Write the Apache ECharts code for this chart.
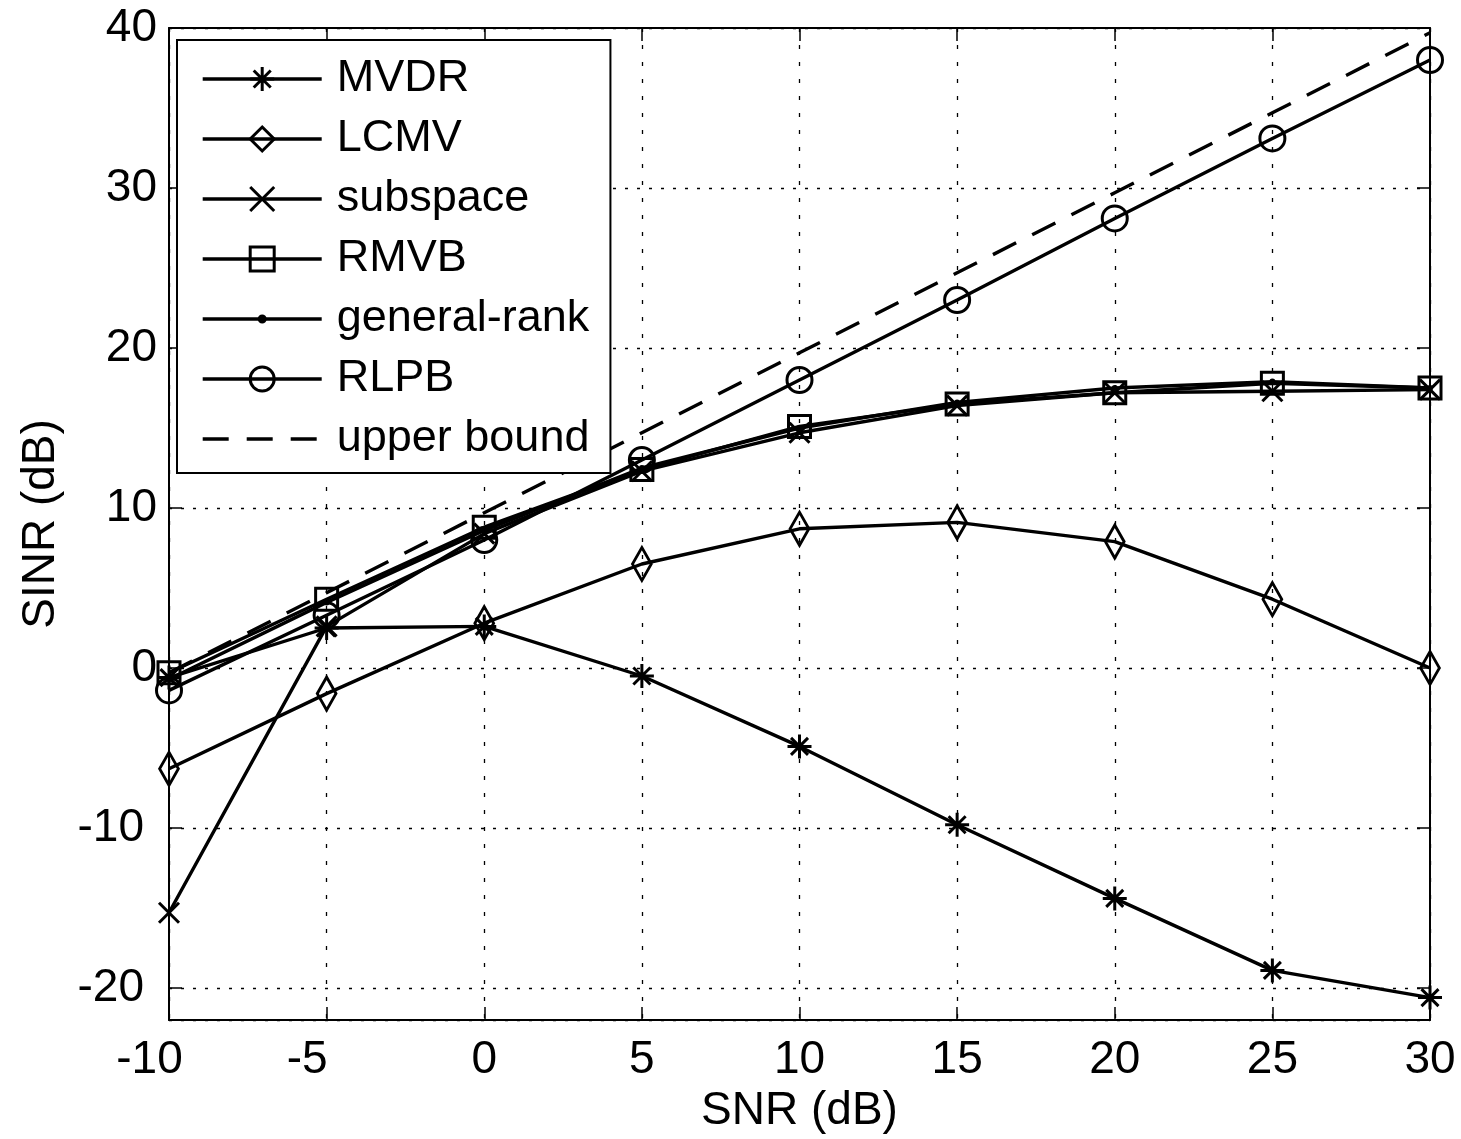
<!DOCTYPE html>
<html>
<head>
<meta charset="utf-8">
<script src="https://cdn.jsdelivr.net/npm/echarts@6/dist/echarts.min.js"></script>
<style>
html,body{margin:0;padding:0;background:#fff;}
#chart{width:1461px;height:1139px;}
</style>
</head>
<body>
<div id="chart"></div>
<script>
// ---- data ----
const snr = [-10, -5, 0, 5, 10, 15, 20, 25, 30];
const mvdr = [-0.6, 2.5, 2.6, -0.5, -4.9, -9.8, -14.4, -18.9, -20.6];
const lcmv = [-6.3, -1.6, 2.8, 6.5, 8.7, 9.1, 7.9, 4.3, 0.0];
const subspace = [-15.3, 2.6, 8.4, 12.3, 14.7, 16.4, 17.2, 17.3, 17.4];
const rmvb = [-0.3, 4.3, 8.8, 12.4, 15.1, 16.5, 17.2, 17.8, 17.5];
const generalRank = [-0.7, 4.1, 8.6, 12.5, 15.0, 16.6, 17.5, 17.9, 17.5];
const rlpb = [-1.4, 3.3, 8.0, 13.0, 18.0, 23.0, 28.1, 33.1, 38.0];
const upperBound = [-0.3, 4.7, 9.7, 14.7, 19.7, 24.7, 29.7, 34.7, 39.7];
const seriesNames = ['MVDR', 'LCMV', 'subspace', 'RMVB', 'general-rank', 'RLPB', 'upper bound'];
const xTicks = {min: -10, max: 30, interval: 5};
const yRange = {min: -22, max: 40, splitNumber: 6};

const FONT = '"Liberation Sans", Arial, Helvetica, sans-serif';
const pair = arr => snr.map((x, i) => [x, arr[i]]);

const SYM = {
  asterisk: 'path://M12,0 L12,24 M0,12 L24,12 M3.5,3.5 L20.5,20.5 M20.5,3.5 L3.5,20.5',
  diamond: 'path://M12,0 L24,16 L12,32 L0,16 Z',
  cross: 'path://M0,0 L20,20 M20,0 L0,20',
  dot: 'path://M0,0 M24,24 M15,12 A3,3 0 1,1 9,12 A3,3 0 1,1 15,12 Z',
  blank: 'path://M0,0 M1,1'
};

function mkSeries(name, data, symbol, size, extra) {
  return Object.assign({
    name: name,
    type: 'line',
    data: pair(data),
    symbol: symbol,
    symbolSize: size,
    showSymbol: true,
    symbolKeepAspect: true,
    lineStyle: {color: '#000', width: 3.4},
    itemStyle: {color: 'rgba(0,0,0,0)', borderColor: '#000', borderWidth: 3},
    emphasis: {disabled: true},
    animation: false,
    z: 3
  }, extra || {});
}

const series = [
  mkSeries(seriesNames[0], mvdr, SYM.asterisk, 24),
  mkSeries(seriesNames[1], lcmv, SYM.diamond, [25, 33]),
  mkSeries(seriesNames[2], subspace, SYM.cross, 20),
  mkSeries(seriesNames[3], rmvb, 'rect', 22),
  mkSeries(seriesNames[4], generalRank, SYM.dot, 24, {itemStyle: {color: '#000', borderColor: '#000', borderWidth: 0}}),
  mkSeries(seriesNames[5], rlpb, 'circle', 25),
  mkSeries(seriesNames[6], upperBound, SYM.blank, 1, {
    lineStyle: {color: '#000', width: 3.4, type: [26, 18]},
    itemStyle: {color: 'rgba(0,0,0,0)', borderColor: 'rgba(0,0,0,0)', borderWidth: 0}
  })
];

const axisLineStyle = {show: true, onZero: false, lineStyle: {color: '#000', width: 2}};
const tickStyle = {show: true, inside: true, length: 13, lineStyle: {color: '#000', width: 1.5}};

const option = {
  backgroundColor: '#fff',
  animation: false,
  grid: {left: 169, right: 31, top: 28, bottom: 119, containLabel: false},
  legend: {
    data: seriesNames,
    orient: 'vertical',
    left: 177,
    top: 40,
    itemWidth: 119,
    itemHeight: 30,
    itemGap: 14,
    padding: [16, 21, 11, 24],
    backgroundColor: '#fff',
    borderColor: '#000',
    borderWidth: 2,
    borderRadius: 0,
    selectedMode: false,
    lineStyle: {width: 3.4},
    itemStyle: {borderWidth: 3},
    textStyle: {fontFamily: FONT, fontSize: 45, color: '#000', lineHeight: 46, padding: [0, 0, 0, 10]}
  },
  xAxis: [
    {
      type: 'value', position: 'bottom',
      min: xTicks.min, max: xTicks.max, interval: xTicks.interval,
      axisLine: axisLineStyle, axisTick: tickStyle,
      splitLine: {show: true, lineStyle: {color: '#000', width: 1.3, type: [4, 13]}},
      axisLabel: {
        fontFamily: FONT, fontSize: 46, color: '#000', margin: 17,
        formatter: v => v < 0 ? '{neg|' + v + '}' : String(v),
        rich: {neg: {fontFamily: FONT, fontSize: 46, color: '#000', padding: [0, 39, 0, 0]}}
      },
      name: 'SNR (dB)', nameLocation: 'middle', nameGap: 60,
      nameTextStyle: {fontFamily: FONT, fontSize: 46, color: '#000'}
    },
    {
      type: 'value', position: 'top',
      min: xTicks.min, max: xTicks.max, interval: xTicks.interval,
      axisLine: axisLineStyle, axisTick: tickStyle,
      splitLine: {show: false}, axisLabel: {show: false}
    }
  ],
  yAxis: [
    {
      type: 'value', position: 'left',
      min: yRange.min, max: yRange.max, splitNumber: yRange.splitNumber,
      axisLine: axisLineStyle, axisTick: tickStyle,
      splitLine: {show: true, lineStyle: {color: '#000', width: 1.3, type: [3, 9]}},
      axisLabel: {
        fontFamily: FONT, fontSize: 46, color: '#000', margin: 12, showMinLabel: false,
        formatter: v => v < 0 ? '{neg|' + v + '}' : String(v),
        rich: {neg: {fontFamily: FONT, fontSize: 46, color: '#000', padding: [0, 13, 0, 0]}}
      },
      name: 'SINR (dB)', nameLocation: 'middle', nameGap: 105,
      nameTextStyle: {fontFamily: FONT, fontSize: 46, color: '#000'}
    },
    {
      type: 'value', position: 'right',
      min: yRange.min, max: yRange.max, splitNumber: yRange.splitNumber,
      axisLine: axisLineStyle, axisTick: tickStyle,
      splitLine: {show: false}, axisLabel: {show: false}
    }
  ],
  series: series
};

const chart = echarts.init(document.getElementById('chart'), null, {renderer: 'canvas'});
chart.setOption(option);
</script>
</body>
</html>
